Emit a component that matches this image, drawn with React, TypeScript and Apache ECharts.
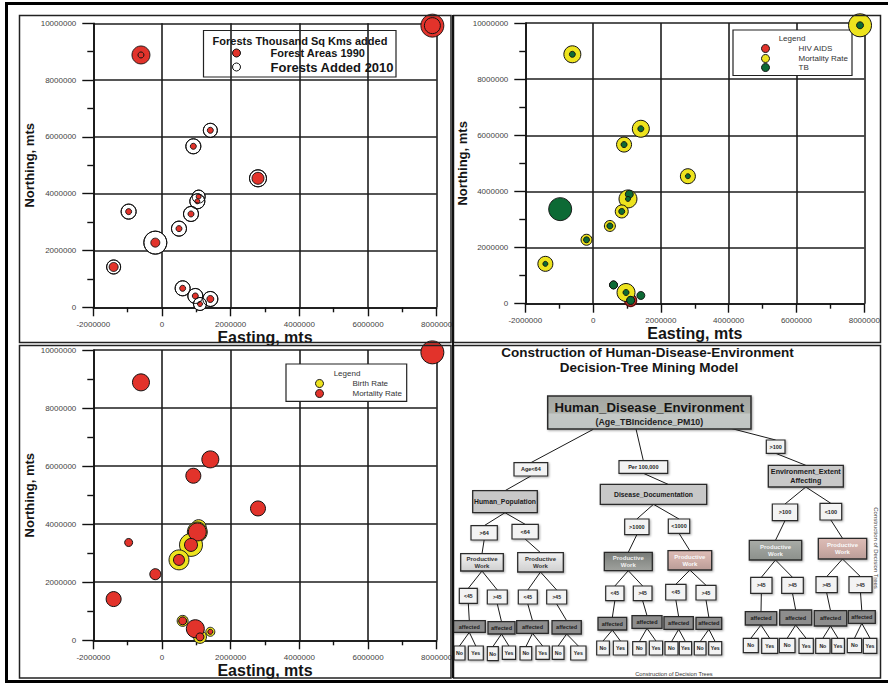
import React, { useEffect, useRef } from 'react';
import * as echarts from 'echarts';

// ---------- data ----------
const eastings = [7874000, -612000, 1408000, 913000, 2796000, 1068000, 1029000, -971000, 845000, 495000, -194000, -1408000, 602000, 971000, 1408000, 1107000];
const northings = [9918000, 8885000, 6232000, 5669000, 4542000, 3897000, 3732000, 3369000, 3286000, 2770000, 2277000, 1420000, 669000, 399000, 293000, 117000];

const forestAreas1990 = [23, 18, 6, 6, 12, 5, 5, 6, 6, 6, 9, 9, 6, 6, 7, 5];
const forestsAdded2010 = [16, 6, 14, 15, 17, 13, 15, 15, 15, 15, 23, 14, 15, 15, 15, 13];
const hivAids = [0, 0, 0, 0, 0, 0, 0, 0, 0, 0, 0, 0, 0, 0, 0, 12];
const mortalityRate = [23, 17, 17, 15, 15, 0, 18, 8, 13, 11, 11, 15, 8, 18, 5, 8];
const tbIncidence = [7, 6, 6, 6, 5, 8, 5, 23, 6, 6, 6, 5, 8, 6, 8, 8];
const birthRate = [0, 0, 0, 0, 0, 15, 20, 0, 23, 20, 0, 0, 11, 0, 9, 13];

const X_MIN = -2000000;
const X_MAX = 8000000;
const Y_MIN = 0;
const Y_MAX = 10000000;
const STEP = 2000000;
const BUBBLE_PX = 1;

// ---------- decision tree content ----------
const treeTitle = ['Construction of Human-Disease-Environment', 'Decision-Tree Mining Model'];
const rootLabels = ['Human_Disease_Environment', '(Age_TBIncidence_PM10)'];
const footerText = 'Construction of Decision Trees';

const mainNodes = [
  { id: 'root', parent: null, label: '', kind: 'root' },
  { id: 'age64', parent: 'root', label: 'Age<64', kind: 'cond' },
  { id: 'per100k', parent: 'root', label: 'Per 100,000', kind: 'cond' },
  { id: 'over100', parent: 'root', label: '>100', kind: 'cond' },
  { id: 'human', parent: 'age64', label: 'Human_Population', kind: 'main' },
  { id: 'disease', parent: 'per100k', label: 'Disease_Documentation', kind: 'main' },
  { id: 'env', parent: 'over100', label: 'Environment_Extent\nAffecting', kind: 'main' },
  { id: 'gt64', parent: 'human', label: '>64', kind: 'cond' },
  { id: 'lt64', parent: 'human', label: '<64', kind: 'cond' },
  { id: 'gt1000', parent: 'disease', label: '>1000', kind: 'cond' },
  { id: 'lt1000', parent: 'disease', label: '<1000', kind: 'cond' },
  { id: 'egt100', parent: 'env', label: '>100', kind: 'cond' },
  { id: 'elt100', parent: 'env', label: '<100', kind: 'cond' },
  { id: 'pw1', parent: 'gt64', label: 'Productive\nWork', kind: 'pwLight' },
  { id: 'pw2', parent: 'lt64', label: 'Productive\nWork', kind: 'pwLight' },
  { id: 'pw3', parent: 'gt1000', label: 'Productive\nWork', kind: 'pwDark' },
  { id: 'pw4', parent: 'lt1000', label: 'Productive\nWork', kind: 'pwPink' },
  { id: 'pw5', parent: 'egt100', label: 'Productive\nWork', kind: 'pwGray' },
  { id: 'pw6', parent: 'elt100', label: 'Productive\nWork', kind: 'pwPink' },
];
const ageLabels = ['<45', '>45', '<45', '>45', '<45', '>45', '<45', '>45', '>45', '>45', '>45', '>45'];
const leafLabels = ['No', 'Yes'];

// layout of the diagram (pixels)
const mainLayout = {
  root: [547.7, 396, 203.3, 33],
  age64: [514, 462.7, 33.7, 13.3],
  per100k: [619, 460.7, 48.7, 12.6],
  over100: [766.3, 440, 18.7, 13.3],
  human: [472.7, 490.7, 64.6, 22],
  disease: [600.3, 484.3, 106.4, 20],
  env: [768.3, 465.3, 75, 21.7],
  gt64: [471, 525.7, 26.3, 14.3],
  lt64: [512, 524.3, 26.3, 14.7],
  gt1000: [624.7, 519, 24.3, 15.7],
  lt1000: [668.3, 519, 21.4, 14.3],
  egt100: [772.3, 504, 25.4, 16.7],
  elt100: [820, 503.3, 21.7, 16.7],
  pw1: [460.7, 553.7, 42.6, 17.3],
  pw2: [517.7, 552.7, 45.6, 19.3],
  pw3: [604.3, 552.3, 48, 18.4],
  pw4: [668, 550.7, 43.7, 19.3],
  pw5: [749.3, 540.3, 52.4, 19.7],
  pw6: [818.3, 538.3, 48.4, 20.7],
};
const edgeAnchors = {
  age64: { from: [593.3, 429.3] },
  per100k: { from: [636, 429] },
  over100: { from: [726.7, 427.3] },
  disease: { to: [668, 484.3] },
};
const ageBoxes = [
  [459.3, 588.3, 18, 15], [487.3, 590, 20, 14],
  [518.3, 590, 19, 14], [546.7, 590, 20, 14],
  [605.7, 586, 18.3, 14.7], [633.3, 586, 18.7, 14.7],
  [665.7, 584.3, 20.3, 15.7], [696, 585.3, 20, 14.7],
  [750.7, 577.3, 21.3, 16], [781.7, 577.3, 21.6, 16],
  [816, 576.7, 21.3, 16], [849, 576.7, 23, 16],
];
const affectedBoxes = [
  [453.3, 620.7, 32, 11.6], [488, 621.7, 27, 12.3],
  [516.7, 620.7, 31.6, 12.6], [552, 620.7, 29.3, 13.3],
  [598, 617.3, 28.7, 12.7], [632, 615.7, 30, 12.6],
  [664, 616.7, 29.3, 12.6], [696, 617.3, 25.7, 12],
  [745.3, 611.7, 31.4, 13.3], [779.7, 610, 32, 15],
  [814.3, 610.7, 32.4, 15.3], [848.3, 610.7, 27, 12.6],
];
const leafBoxes = [
  [[454, 646, 11, 14], [468.3, 646, 15, 14]],
  [[487.3, 646.7, 11, 14], [502.3, 646, 13.3, 13.3]],
  [[520, 646.7, 11.7, 13.3], [536, 646, 13.3, 13.3]],
  [[552.3, 646, 11.7, 13.3], [570.7, 646, 15.3, 14]],
  [[596.7, 641, 12.7, 14], [613.3, 641, 14.3, 14]],
  [[632.7, 641.7, 13.3, 13.3], [649.3, 641, 13.3, 14]],
  [[665, 641.7, 13, 13.3], [679.3, 641.7, 12.3, 13.3]],
  [[694.3, 641.7, 11.7, 13.3], [708.7, 641.7, 13, 13.3]],
  [[743.3, 638.3, 15, 14.3], [761.7, 638.3, 16, 15]],
  [[779.3, 638.3, 15.7, 14.3], [799, 638.3, 14.3, 15]],
  [[815.7, 638.3, 14.3, 15], [831.7, 638.3, 12.7, 15]],
  [[847.3, 638.3, 14.3, 14.3], [863.3, 638.3, 13.5, 15]],
];

// ---------- styles ----------
const FONT = 'Liberation Sans, Arial, Helvetica, sans-serif';
const RED = '#e2332b';
const YELLOW = '#ede31e';
const GREEN = '#0d6a35';
const INK = '#151515';
const GRID_LINE = '#1e1e1e';

function grad(stops: [number, string][]) {
  return new echarts.graphic.LinearGradient(0, 0, 0, 1, stops.map(([offset, color]) => ({ offset, color })));
}

const kindStyle: any = {
  root: { fill: () => grad([[0, '#a3a6a1'], [0.5, '#aeb1ab'], [0.56, '#c4c8c6'], [1, '#c0c5c3']]), lw: 1.5, fs: 0, fw: 'bold', color: INK },
  cond: { fill: () => '#f3f3f3', lw: 1.2, fs: 5.5, fw: 'bold', color: '#222' },
  main: { fill: () => '#c8c8c8', lw: 1.3, fs: 6.8, fw: 'bold', color: '#1a1a1a' },
  pwLight: { fill: () => grad([[0, '#f2f2f2'], [1, '#cfcfcf']]), lw: 1.3, fs: 6, fw: 'bold', color: '#333' },
  pwDark: { fill: () => grad([[0, '#777a77'], [0.5, '#8c8f8b'], [1, '#9fa19d']]), lw: 1.3, fs: 6, fw: 'bold', color: '#f0f0f0' },
  pwPink: { fill: () => grad([[0, '#dcbcb6'], [0.5, '#cfaea8'], [1, '#b99c97']]), lw: 1.3, fs: 6, fw: 'bold', color: '#fafafa' },
  pwGray: { fill: () => grad([[0, '#a9aca7'], [0.5, '#9a9e99'], [1, '#8c908b']]), lw: 1.3, fs: 6, fw: 'bold', color: '#f4f4f4' },
  age: { fill: () => '#f3f3f3', lw: 1.2, fs: 5, fw: 'bold', color: '#222' },
  affected: { fill: () => '#8d8d8d', lw: 1.3, fs: 5.5, fw: 'bold', color: '#202020' },
  leaf: { fill: () => '#f3f3f3', lw: 1.2, fs: 5.2, fw: 'bold', color: '#222' },
};

function buildTree() {
  const nodes: any[] = [];
  const pos: any = {};
  mainNodes.forEach((n) => {
    pos[n.id] = (mainLayout as any)[n.id];
    nodes.push({ ...n });
  });
  const pwIds = ['pw1', 'pw2', 'pw3', 'pw4', 'pw5', 'pw6'];
  ageBoxes.forEach((b, i) => {
    const id = 'age' + i;
    pos[id] = b;
    nodes.push({ id, parent: pwIds[Math.floor(i / 2)], label: ageLabels[i], kind: 'age' });
    const aid = 'aff' + i;
    pos[aid] = affectedBoxes[i];
    nodes.push({ id: aid, parent: id, label: 'affected', kind: 'affected' });
    leafBoxes[i].forEach((lb, j) => {
      const lid = 'leaf' + i + '_' + j;
      pos[lid] = lb;
      nodes.push({ id: lid, parent: aid, label: leafLabels[j], kind: 'leaf' });
    });
  });

  const els: any[] = [];
  nodes.forEach((n) => {
    if (!n.parent) return;
    const p = pos[n.parent];
    const c = pos[n.id];
    const anchor = (edgeAnchors as any)[n.id] || {};
    const from = anchor.from || [p[0] + p[2] / 2, p[1] + p[3]];
    const to = anchor.to || [c[0] + c[2] / 2, c[1]];
    els.push({ type: 'line', z: 9, silent: true, shape: { x1: from[0], y1: from[1], x2: to[0], y2: to[1] }, style: { stroke: '#1a1a1a', lineWidth: 1 } });
  });
  nodes.forEach((n) => {
    const [x, y, w, h] = pos[n.id];
    const st = kindStyle[n.kind];
    els.push({
      type: 'rect', z: 10, silent: true,
      shape: { x, y, width: w, height: h },
      style: { fill: st.fill(), stroke: '#2b2b2b', lineWidth: st.lw, shadowBlur: 2, shadowOffsetX: 1, shadowOffsetY: 1, shadowColor: 'rgba(0,0,0,0.35)' },
    });
    if (n.kind === 'root') {
      els.push({ type: 'text', z: 11, silent: true, style: { text: rootLabels[0], x: x + w / 2, y: y + 11.5, align: 'center', verticalAlign: 'middle', fontSize: 13.2, fontWeight: 'bold', fontFamily: FONT, fill: INK } });
      els.push({ type: 'text', z: 11, silent: true, style: { text: rootLabels[1], x: x + w / 2, y: y + 25.5, align: 'center', verticalAlign: 'middle', fontSize: 8.8, fontWeight: 'bold', fontFamily: FONT, fill: '#1e1e1e' } });
    } else {
      const fs = n.id === 'env' ? 7.2 : st.fs;
      els.push({ type: 'text', z: 11, silent: true, style: { text: n.label, x: x + w / 2, y: y + h / 2, align: 'center', verticalAlign: 'middle', fontSize: fs, lineHeight: fs * 1.2, fontWeight: st.fw, fontFamily: FONT, fill: st.color } });
    }
  });
  return els;
}

const pts = (sizes: number[]) =>
  eastings.map((x, i) => [x, northings[i], sizes[i]]).filter((d) => d[2] > 0);

function xAxis(gridIndex: number, nameGap: number) {
  return {
    type: 'value', gridIndex, min: X_MIN, max: X_MAX, interval: STEP,
    name: 'Easting, mts', nameLocation: 'middle', nameGap,
    nameTextStyle: { fontSize: 16, fontWeight: 'bold', color: INK, fontFamily: FONT },
    axisLine: { show: true, onZero: false, lineStyle: { color: '#111', width: 1.6 } },
    axisTick: { show: true, length: 9, lineStyle: { color: '#111', width: 1.4 } },
    minorTick: { show: true, splitNumber: 2, length: 5, lineStyle: { color: '#111', width: 1.4 } },
    axisLabel: { fontSize: 8, color: '#444', fontFamily: FONT, margin: 13, showMinLabel: true, showMaxLabel: true, formatter: (v: number) => String(v) },
    splitLine: { show: true, lineStyle: { color: GRID_LINE, width: 1.6 } },
  };
}
function yAxis(gridIndex: number, nameGap: number) {
  return {
    type: 'value', gridIndex, min: Y_MIN, max: Y_MAX, interval: STEP,
    name: 'Northing, mts', nameLocation: 'middle', nameGap,
    nameTextStyle: { fontSize: 13, fontWeight: 'bold', color: INK, fontFamily: FONT },
    axisLine: { show: true, onZero: false, lineStyle: { color: '#111', width: 1.6 } },
    axisTick: { show: true, length: 11, lineStyle: { color: '#111', width: 1.4 } },
    minorTick: { show: true, splitNumber: 2, length: 6, lineStyle: { color: '#111', width: 1.4 } },
    axisLabel: { fontSize: 8, color: '#444', fontFamily: FONT, margin: 17, formatter: (v: number) => String(v) },
    splitLine: { show: true, lineStyle: { color: GRID_LINE, width: 1.6 } },
  };
}

function bubble(name: string, idx: number, sizes: number[], color: string, z: number, border = '#111', bw = 1) {
  return {
    type: 'scatter', name, xAxisIndex: idx, yAxisIndex: idx, z,
    data: pts(sizes),
    symbol: 'circle',
    symbolSize: (d: number[]) => d[2] * BUBBLE_PX,
    itemStyle: { color, borderColor: border, borderWidth: bw, opacity: 1 },
    emphasis: { disabled: true },
  };
}

function legendItem(name: string, left: number, top: number, color: string, fontSize: number, bold: boolean, pad: number, border = '#111') {
  const ts = { fontSize, fontWeight: bold ? 'bold' : 'normal', color: bold ? INK : '#333', fontFamily: FONT, padding: [0, 0, 0, pad] };
  return {
    left, top, padding: 0, itemWidth: 8, itemHeight: 8, selectedMode: false, orient: 'vertical',
    textStyle: ts,
    data: [{ name, icon: 'circle', itemStyle: { color, borderColor: border, borderWidth: 1 }, textStyle: ts }],
  };
}

function frames() {
  const rect = (x: number, y: number, w: number, h: number, lw: number, stroke = '#222') => ({
    type: 'rect', z: 100, silent: true, shape: { x, y, width: w, height: h }, style: { fill: 'none', stroke, lineWidth: lw },
  });
  return [
    rect(6.5, 3.5, 890, 678, 3, '#000'),
    rect(19.5, 15.5, 431.5, 327, 1.5),
    rect(453.5, 15.5, 427, 327, 1.5),
    rect(19.5, 345.5, 431.5, 332.5, 1.5),
    rect(453.5, 345.5, 427, 332.5, 1.5),
    { type: 'line', z: 100, silent: true, shape: { x1: 453, y1: 15, x2: 453, y2: 678 }, style: { stroke: '#111', lineWidth: 2 } },
  ];
}

function legendBoxes() {
  const box = (x: number, y: number, w: number, h: number, fill: string) => ({
    type: 'rect', z: 1, silent: true, shape: { x, y, width: w, height: h }, style: { fill, stroke: '#222', lineWidth: 1.2 },
  });
  const txt = (text: string, x: number, y: number, fontSize: number, bold: boolean) => ({
    type: 'text', z: 5, silent: true,
    style: { text, x, y, align: 'center', verticalAlign: 'middle', fontSize, fontWeight: bold ? 'bold' : 'normal', fontFamily: FONT, fill: bold ? INK : '#333' },
  });
  return [
    box(203.5, 30.5, 192.5, 46.5, 'none'),
    box(733, 30, 119, 45.5, '#fff'),
    box(286, 364, 120.7, 37.3, '#fff'),
    txt('Forests Thousand Sq Kms added', 300, 40.5, 11, true),
    txt('Legend', 792, 38.5, 8, false),
    txt('Legend', 347, 373, 8, false),
  ];
}

function treeTexts() {
  return [
    { type: 'text', z: 11, silent: true, style: { text: treeTitle[0], x: 647.5, y: 352.5, align: 'center', verticalAlign: 'middle', fontSize: 13.5, fontWeight: 'bold', fontFamily: FONT, fill: INK } },
    { type: 'text', z: 11, silent: true, style: { text: treeTitle[1], x: 649, y: 367, align: 'center', verticalAlign: 'middle', fontSize: 13.5, fontWeight: 'bold', fontFamily: FONT, fill: INK } },
    { type: 'text', z: 11, silent: true, style: { text: footerText, x: 674, y: 674, align: 'center', verticalAlign: 'middle', fontSize: 5.7, fontFamily: FONT, fill: '#333' } },
    { type: 'text', z: 12, silent: true, x: 876, y: 548, rotation: -Math.PI / 2, style: { text: footerText, x: 0, y: 0, align: 'center', verticalAlign: 'middle', fontSize: 6, fontFamily: FONT, fill: '#444' } },
  ];
}

export default function App() {
  const ref = useRef<HTMLDivElement>(null);
  useEffect(() => {
    if (!ref.current) return;
    const chart = echarts.init(ref.current, undefined, { renderer: 'svg' });
    chart.setOption({
      animation: false,
      backgroundColor: '#fff',
      grid: [
        { left: 93.3, right: 451.3, top: 23.3, bottom: 375.7 },
        { left: 525.3, right: 23.7, top: 23, bottom: 379.3 },
        { left: 93.3, right: 451.3, top: 350, bottom: 42.7 },
      ],
      xAxis: [xAxis(0, 22), xAxis(1, 21), xAxis(2, 22)],
      yAxis: [yAxis(0, 57), yAxis(1, 56), yAxis(2, 57)],
      legend: [
        legendItem('Forest Areas 1990', 232, 47.5, RED, 11, true, 25),
        legendItem('Forests Added 2010', 232, 60.5, '#fff', 13, true, 25),
        legendItem('HIV AIDS', 761, 44, RED, 8, false, 24),
        legendItem('Mortality Rate', 761, 54, YELLOW, 8, false, 24),
        legendItem('TB', 761, 63, GREEN, 8, false, 24),
        legendItem('Birth Rate', 315, 379, YELLOW, 8, false, 24),
        legendItem('Mortality Rate', 315, 389, RED, 8, false, 24),
      ],
      series: [
        bubble('Forests Added 2010', 0, forestsAdded2010, '#fff', 2, '#111', 1),
        bubble('Forest Areas 1990', 0, forestAreas1990, RED, 3, '#111', 0.9),
        { ...bubble('Forests Added 2010 outline', 0, forestsAdded2010, 'rgba(0,0,0,0)', 4, '#111', 1), silent: true },
        bubble('HIV AIDS', 1, hivAids, RED, 2, '#5a1010', 1.3),
        bubble('Mortality Rate', 1, mortalityRate, YELLOW, 3, '#111', 1),
        bubble('TB', 1, tbIncidence, GREEN, 4, '#111', 0.9),
        bubble('Birth Rate', 2, birthRate, YELLOW, 2, '#222', 1),
        bubble('Mortality Rate', 2, mortalityRate, RED, 3, '#111', 1),
      ],
      graphic: { elements: [...legendBoxes(), ...buildTree(), ...treeTexts(), ...frames()] },
    });
    return () => chart.dispose();
  }, []);
  return <div ref={ref} style={{ position: 'absolute', left: 0, top: 0, width: 888, height: 683, background: '#fff' }} />;
}
